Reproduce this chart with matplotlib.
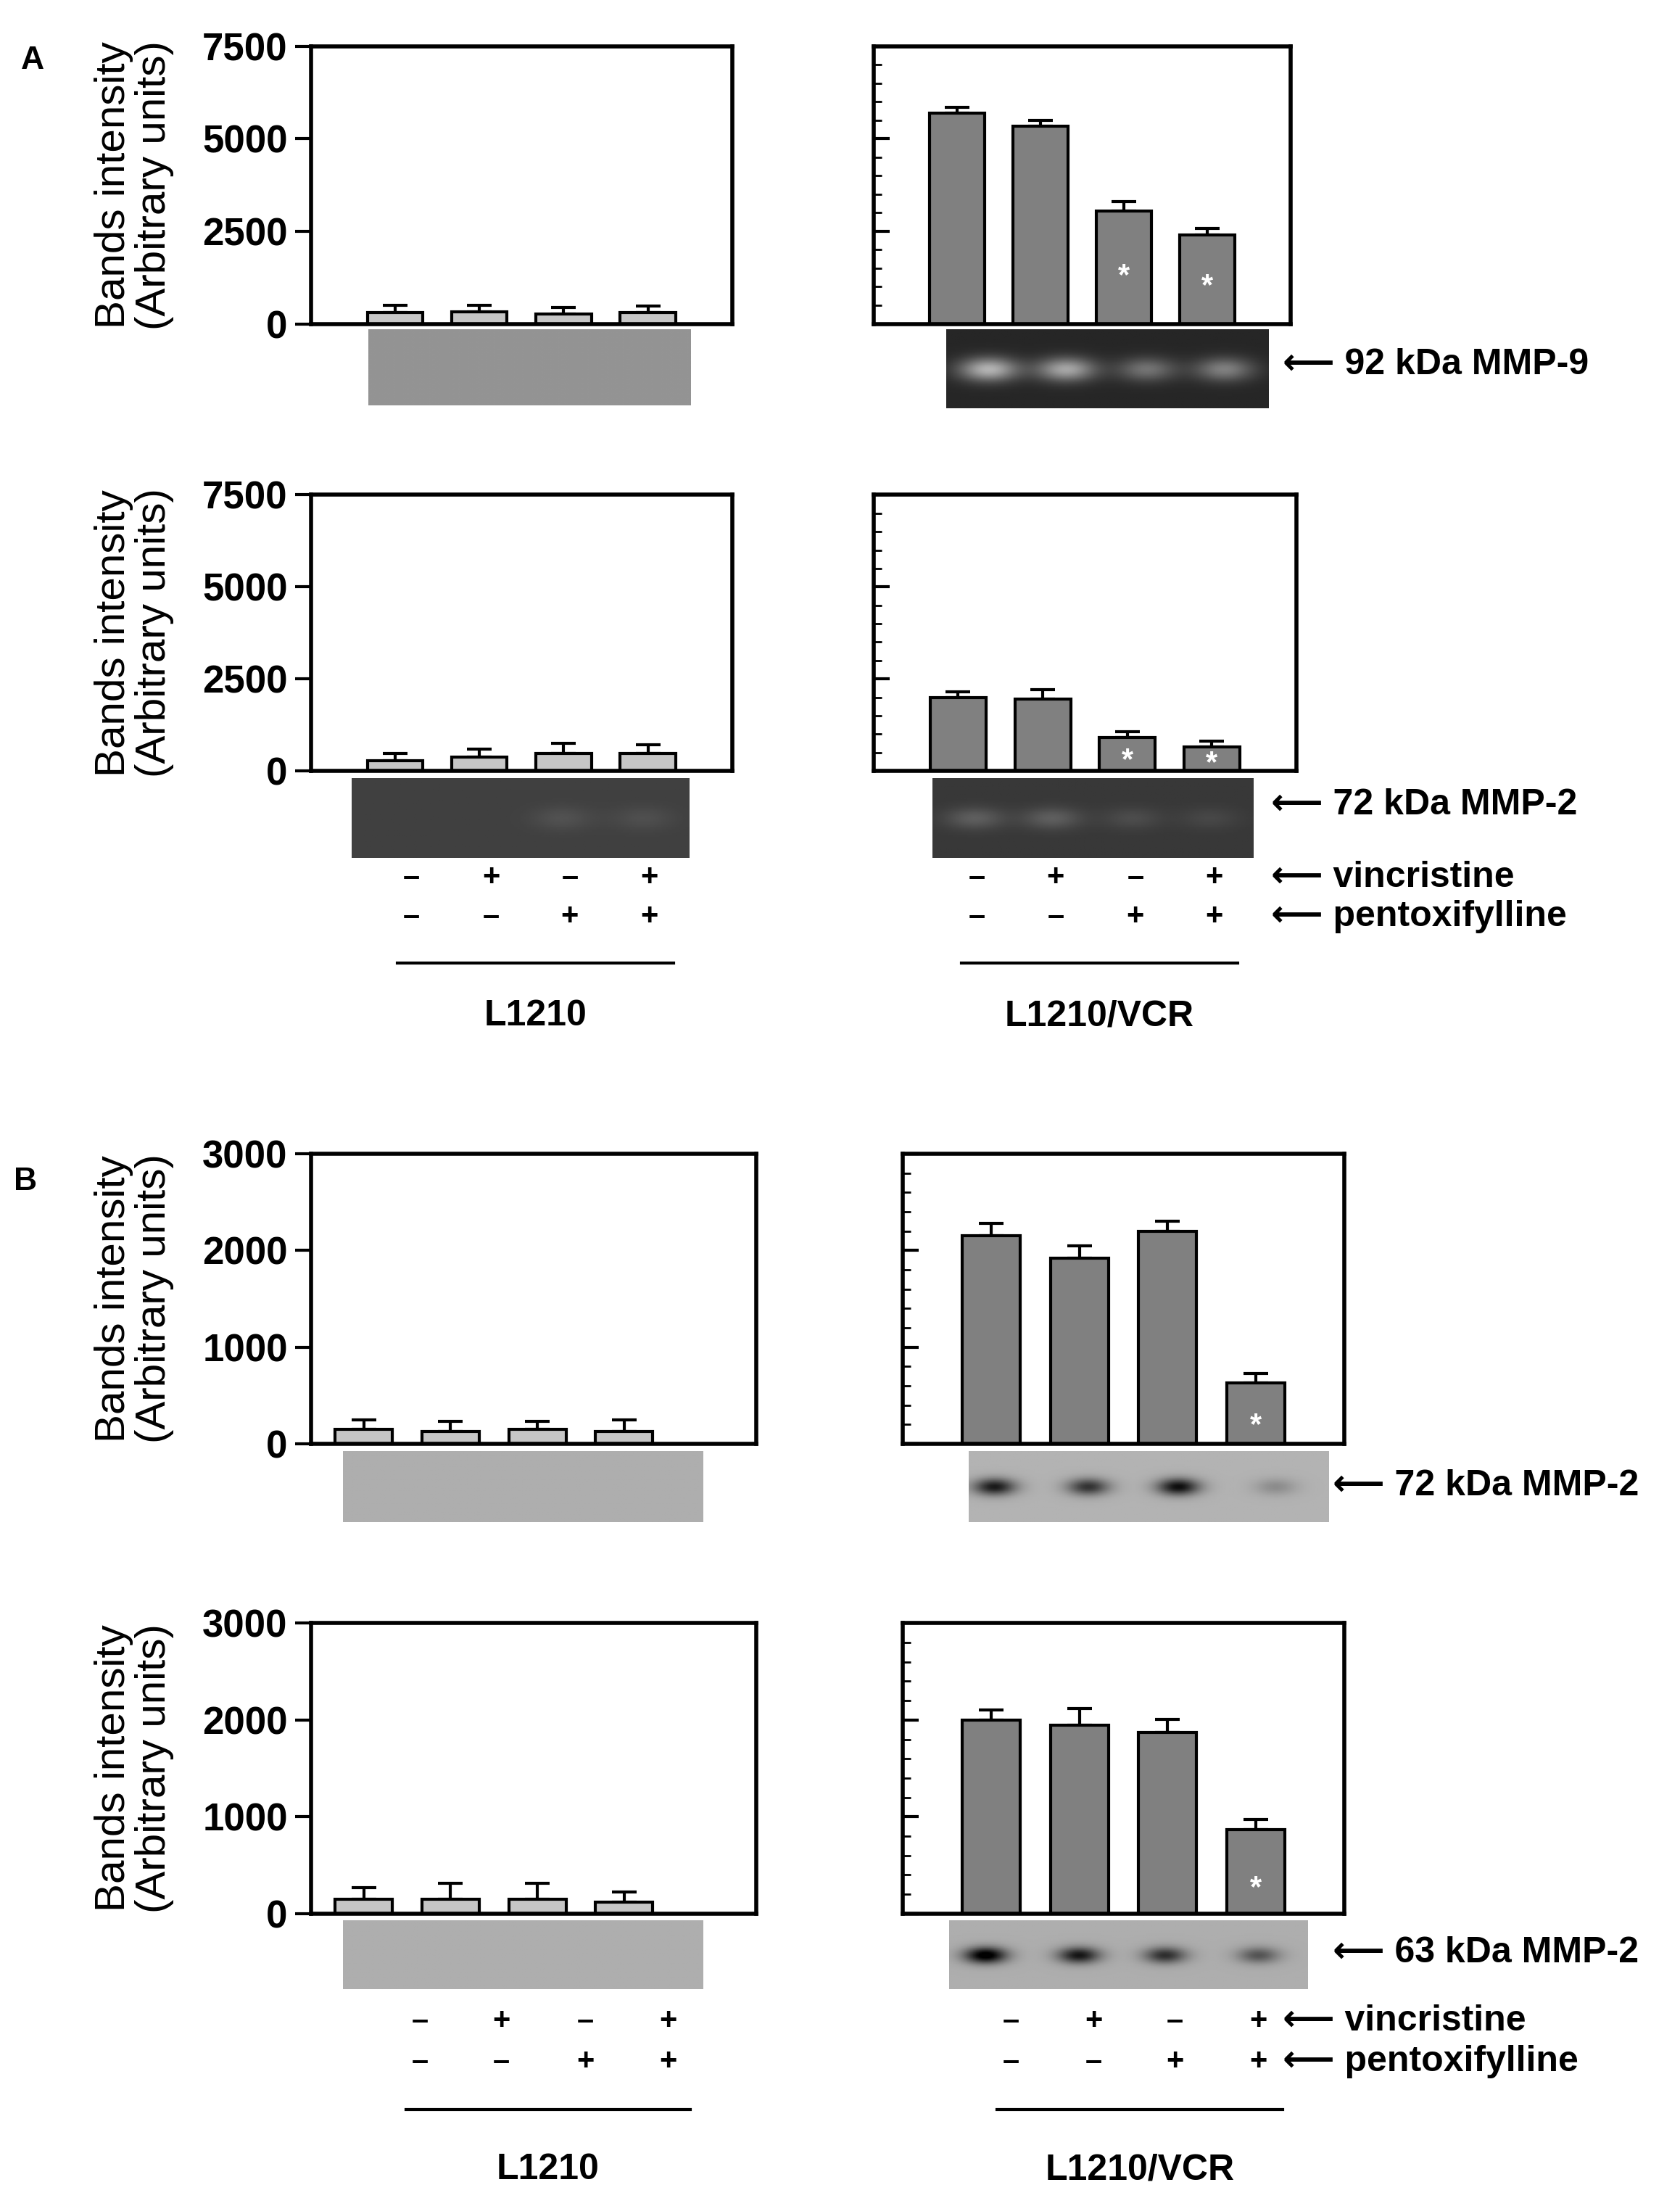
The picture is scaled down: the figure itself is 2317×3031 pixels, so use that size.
import matplotlib
matplotlib.use("Agg")
import matplotlib.pyplot as plt
import numpy as np

W, H = 1200.0, 1568.0  # layout units of the reference

# ---- data ----
mmp9_l1210 = [300, 320, 270, 300]
mmp9_l1210_err = [200, 180, 170, 180]
mmp9_vcr = [5700, 5350, 3050, 2400]
mmp9_vcr_err = [150, 150, 250, 180]

mmp2z_l1210 = [280, 370, 480, 470]
mmp2z_l1210_err = [200, 230, 280, 250]
mmp2z_vcr = [2000, 1950, 900, 650]
mmp2z_vcr_err = [150, 250, 170, 170]

mmp2w_l1210 = [150, 130, 150, 130]
mmp2w_l1210_err = [100, 100, 80, 120]
mmp2w_vcr = [2150, 1920, 2200, 630]
mmp2w_vcr_err = [130, 130, 100, 100]

mmp63_l1210 = [150, 150, 150, 120]
mmp63_l1210_err = [120, 160, 160, 100]
mmp63_vcr = [2000, 1950, 1870, 870]
mmp63_vcr_err = [100, 170, 140, 100]

vcr_signs = ["\u2013", "+", "\u2013", "+"]
ptx_signs = ["\u2013", "\u2013", "+", "+"]
signif = [False, False, True, True]
signif_b = [False, False, False, True]

LIGHT = "#c6c6c6"
DARK = "#808080"

fig = plt.figure(figsize=(2317 / 200, 3031 / 200), dpi=200)
plt.rcParams["font.family"] = ["Liberation Sans", "DejaVu Sans"]


def ax_at(x0, x1, y0, y1):
    return fig.add_axes([x0 / W, 1 - y1 / H, (x1 - x0) / W, (y1 - y0) / H])


def bar_panel(box, vals, errs, color, ymax, step, xlim, labels, stars=None):
    ax = ax_at(*box)
    xs = np.arange(1, len(vals) + 1)
    ax.bar(xs, vals, width=0.66, color=color, edgecolor="black", linewidth=1.5, zorder=2)
    ax.errorbar(xs, vals, yerr=[np.zeros(len(errs)), errs], fmt="none",
                ecolor="black", elinewidth=1.5, capsize=6, capthick=1.5, zorder=1)
    if stars:
        for x, v, s in zip(xs, vals, stars):
            if s:
                ax.text(x, v * 0.42 if v > 1200 else v * 0.3, "*", color="white",
                        ha="center", va="center", fontsize=15, fontweight="bold")
    ax.set_xlim(*xlim)
    ax.set_ylim(0, ymax)
    ax.set_yticks(np.arange(0, ymax + 1, step))
    ax.set_xticks([])
    for sp in ax.spines.values():
        sp.set_linewidth(2)
    ax.tick_params(axis="y", length=8, width=1.5, direction="in" if not labels else "out")
    if labels:
        ax.set_yticklabels([str(int(t)) for t in ax.get_yticks()], fontsize=19, fontweight="bold")
        ax.set_ylabel("Bands intensity\n(Arbitrary units)", fontsize=21, labelpad=14, linespacing=1.05)
    else:
        ax.set_yticklabels([])
        ax.minorticks_on()
        ax.tick_params(axis="y", which="minor", length=4, width=1, direction="in")
        ax.tick_params(axis="x", which="minor", length=0)
    return ax


def gel(box, base, bands, sx=14.0, sy=7.0):
    ax = ax_at(*box)
    w, h = 240, 60
    img = np.full((h, w), base, dtype=float)
    yy, xx = np.mgrid[0:h, 0:w]
    for cx, amp in bands:
        img += amp * np.exp(-(((xx - cx * w) / sx) ** 2) - ((yy - h * 0.5) / sy) ** 2)
    ax.imshow(np.clip(img, 0, 1), cmap="gray", vmin=0, vmax=1, aspect="auto")
    ax.axis("off")


def arrow_label(x, y, text):
    fig.text(x / W, 1 - y / H, "\u27f5 " + text, fontsize=18, fontweight="bold", va="center",
             family=["DejaVu Sans"] if False else ["Liberation Sans", "DejaVu Sans"])


# ---- panel A ----
bar_panel((222, 523, 33, 231), mmp9_l1210, mmp9_l1210_err, LIGHT, 7500, 2500, (0, 5), True)
bar_panel((624, 922, 33, 231), mmp9_vcr, mmp9_vcr_err, DARK, 7500, 2500, (0, 5), False, signif)
gel((263, 493, 235, 289), 0.58, [])
gel((676, 906, 235, 291), 0.15, [(0.13, 0.55), (0.37, 0.5), (0.62, 0.3), (0.86, 0.35)], sx=22, sy=9)
arrow_label(916, 260, "92 kDa MMP-9")

bar_panel((222, 523, 353, 550), mmp2z_l1210, mmp2z_l1210_err, LIGHT, 7500, 2500, (0, 5), True)
bar_panel((624, 926, 353, 550), mmp2z_vcr, mmp2z_vcr_err, DARK, 7500, 2500, (0, 5), False, signif)
gel((251, 492, 555, 612), 0.25, [(0.62, 0.07), (0.86, 0.06)], sx=22, sy=9)
gel((666, 895, 555, 612), 0.22, [(0.13, 0.15), (0.37, 0.15), (0.62, 0.08), (0.86, 0.06)], sx=22, sy=8)
arrow_label(908, 574, "72 kDa MMP-2")

# ---- panel B ----
bar_panel((222, 540, 823, 1030), mmp2w_l1210, mmp2w_l1210_err, LIGHT, 3000, 1000, (0.39, 5.52), True)
bar_panel((645, 960, 823, 1030), mmp2w_vcr, mmp2w_vcr_err, DARK, 3000, 1000, (0, 5), False, signif_b)
gel((245, 502, 1035, 1086), 0.68, [])
gel((692, 949, 1035, 1086), 0.7, [(0.07, -0.6), (0.33, -0.5), (0.58, -0.65), (0.85, -0.15)])
arrow_label(952, 1060, "72 kDa MMP-2")

bar_panel((222, 540, 1158, 1365), mmp63_l1210, mmp63_l1210_err, LIGHT, 3000, 1000, (0.39, 5.52), True)
bar_panel((645, 960, 1158, 1365), mmp63_vcr, mmp63_vcr_err, DARK, 3000, 1000, (0, 5), False, signif_b)
gel((245, 502, 1370, 1419), 0.68, [])
gel((678, 934, 1370, 1419), 0.68, [(0.1, -0.75), (0.36, -0.6), (0.6, -0.5), (0.86, -0.35)])
arrow_label(952, 1393, "63 kDa MMP-2")


def treatments(xs, y1, y2, line, name, ny, with_labels, lab_x):
    for x, v, p in zip(xs, vcr_signs, ptx_signs):
        fig.text(x / W, 1 - y1 / H, v, ha="center", va="center", fontsize=15, fontweight="bold")
        fig.text(x / W, 1 - y2 / H, p, ha="center", va="center", fontsize=15, fontweight="bold")
    fig.add_artist(plt.Line2D([line[0] / W, line[1] / W], [1 - line[2] / H] * 2,
                              color="black", lw=1.5))
    fig.text((line[0] + line[1]) / 2 / W, 1 - ny / H, name, ha="center", va="center",
             fontsize=18, fontweight="bold")
    if with_labels:
        arrow_label(lab_x, y1, "vincristine")
        arrow_label(lab_x, y2, "pentoxifylline")


treatments([294, 351, 407, 464], 626, 654, (284, 481, 687), "L1210", 725, False, 0)
treatments([698, 754, 811, 867], 626, 654, (687, 884, 687), "L1210/VCR", 725, True, 908)
treatments([300, 358, 418, 477], 1442, 1471, (290, 493, 1505), "L1210", 1548, False, 0)
treatments([722, 781, 839, 899], 1442, 1471, (712, 916, 1505), "L1210/VCR", 1548, True, 916)

fig.text(15 / W, 1 - 43 / H, "A", fontsize=16, fontweight="bold", va="center")
fig.text(10 / W, 1 - 843 / H, "B", fontsize=16, fontweight="bold", va="center")

fig.savefig("out.png", dpi=200, facecolor="white")
